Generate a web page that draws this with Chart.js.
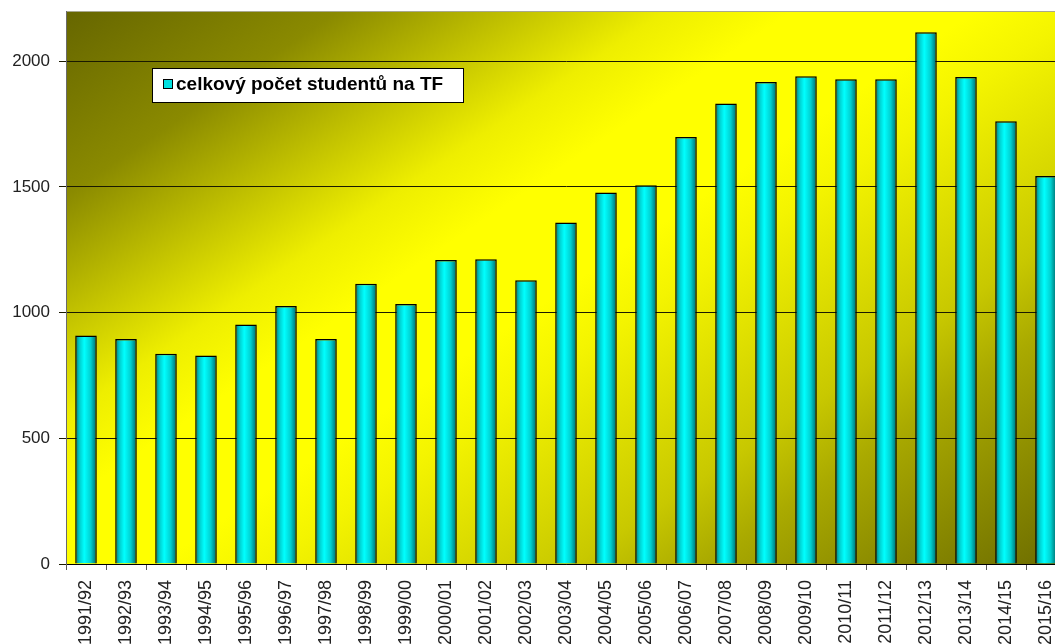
<!DOCTYPE html>
<html>
<head>
<meta charset="utf-8">
<script src="https://cdn.jsdelivr.net/npm/chart.js@4.4.1/dist/chart.umd.min.js"></script>
<style>
	body { margin: 0; overflow: hidden; background: #fff; }
	#wrap { width: 1068px; height: 644px; }
</style>
</head>
<body>
<div id="wrap"><canvas id="myChart"></canvas></div>
<script>
// DATA
const years = ['1991/92', '1992/93', '1993/94', '1994/95', '1995/96', '1996/97', '1997/98', '1998/99', '1999/00',
	'2000/01', '2001/02', '2002/03', '2003/04', '2004/05', '2005/06', '2006/07', '2007/08', '2008/09',
	'2009/10', '2010/11', '2011/12', '2012/13', '2013/14', '2014/15', '2015/16'];
const students = [909, 895, 836, 829, 953, 1026, 895, 1115, 1034,
	1209, 1212, 1129, 1359, 1478, 1507, 1699, 1832, 1918,
	1940, 1928, 1928, 2115, 1937, 1761, 1544];
const yTicks = [0, 500, 1000, 1500, 2000];
const seriesName = 'celkový počet studentů na TF';

const FONT = '"Liberation Sans", Arial, sans-serif';
const BAR_PCT = 0.54;

// cyan bar with a horizontal shine
function barFill(context) {
	const chart = context.chart;
	const x = chart.scales.x;
	if (!x || context.dataIndex === undefined) return '#00ffff';
	const cx = x.getPixelForValue(context.dataIndex);
	const w = x.width / years.length * BAR_PCT;
	if (!isFinite(cx) || !isFinite(w) || w <= 0) return '#00ffff';
	const g = chart.ctx.createLinearGradient(cx - w / 2, 0, cx + w / 2, 0);
	g.addColorStop(0, '#006c6c');
	g.addColorStop(0.18, '#00c8c8');
	g.addColorStop(0.42, '#00ffff');
	g.addColorStop(0.72, '#00d0d0');
	g.addColorStop(1, '#006464');
	return g;
}

// olive - yellow - olive diagonal fill behind the plot
const plotBackground = {
	id: 'plotBackground',
	beforeDraw(chart) {
		const { ctx, chartArea: a } = chart;
		const W = a.right - a.left, H = a.bottom - a.top;
		if (!(W > 0 && H > 0)) return;
		// t = 0.55*x/W + 0.45*y/H
		const vx = 0.55 / W, vy = 0.45 / H;
		const v2 = vx * vx + vy * vy;
		const g = ctx.createLinearGradient(a.left, a.top, a.left + vx / v2, a.top + vy / v2);
		g.addColorStop(0, '#666600');
		g.addColorStop(0.15, '#8a8a00');
		g.addColorStop(0.25, '#c2c200');
		g.addColorStop(0.33, '#eeee00');
		g.addColorStop(0.4, '#ffff00');
		g.addColorStop(0.5, '#ffff00');
		g.addColorStop(0.56, '#f4f400');
		g.addColorStop(0.73, '#c8c800');
		g.addColorStop(0.8, '#aaaa00');
		g.addColorStop(0.9, '#8a8a00');
		g.addColorStop(1, '#6c6c00');
		ctx.save();
		ctx.fillStyle = g;
		ctx.fillRect(a.left, a.top, W, H);
		ctx.strokeStyle = '#a8a890';
		ctx.lineWidth = 1;
		ctx.beginPath();
		ctx.moveTo(a.left, a.top + 0.5);
		ctx.lineTo(a.right, a.top + 0.5);
		ctx.stroke();
		ctx.restore();
	}
};

// floating legend inside the plot
const legendBox = {
	id: 'legendBox',
	afterDraw(chart) {
		const { ctx, chartArea: a } = chart;
		const bx = a.left + 86, by = a.top + 57, bw = 311, bh = 34;
		ctx.save();
		ctx.fillStyle = '#ffffff';
		ctx.fillRect(bx, by, bw, bh);
		ctx.strokeStyle = '#000';
		ctx.lineWidth = 1;
		ctx.strokeRect(bx + 0.5, by + 0.5, bw, bh);
		ctx.fillStyle = '#00e0e0';
		ctx.fillRect(bx + 11, by + 11, 10, 10);
		ctx.strokeStyle = '#000';
		ctx.strokeRect(bx + 11.5, by + 11.5, 9, 9);
		ctx.fillStyle = '#000';
		ctx.font = 'bold 19px ' + FONT;
		ctx.textBaseline = 'middle';
		ctx.fillText(chart.data.datasets[0].label, bx + 24, by + 17);
		ctx.restore();
	}
};

const ctx = document.getElementById('myChart');
const myChart = new Chart(ctx, {
	type: 'bar',
	data: {
		labels: years,
		datasets: [{
			label: seriesName,
			data: students,
			backgroundColor: barFill,
			borderColor: '#000',
			borderWidth: 1.5,
			barPercentage: BAR_PCT,
			categoryPercentage: 1
		}]
	},
	options: {
		responsive: true,
		maintainAspectRatio: false,
		animation: false,
		layout: { padding: { top: 11, left: 0, right: 2, bottom: 0 } },
		plugins: {
			legend: { display: false },
			tooltip: { enabled: false }
		},
		scales: {
			x: {
				afterFit: s => {
					s.height = 80;
					s.paddingLeft = 0;
					s.paddingRight = 0;
				},
				grid: {
					display: true,
					offset: true,
					drawOnChartArea: false,
					drawTicks: true,
					tickLength: 6,
					color: '#555'
				},
				border: { display: true, color: '#000', width: 1 },
				ticks: {
					autoSkip: false,
					maxRotation: 90,
					minRotation: 90,
					padding: 10,
					color: '#222',
					font: { family: FONT, size: 18 }
				}
			},
			y: {
				min: 0,
				max: 2200,
				afterFit: s => {
					s.width = 66;
					s.paddingTop = 0;
					s.paddingBottom = 0;
				},
				afterBuildTicks: s => { s.ticks = yTicks.map(v => ({ value: v })); },
				grid: {
					color: '#1a1a00',
					lineWidth: 1,
					tickLength: 7,
					drawTicks: true
				},
				border: { display: true, color: '#6a6a6a', width: 1 },
				ticks: {
					padding: 9,
					color: '#222',
					font: { family: FONT, size: 17 },
					callback: v => String(v)
				}
			}
		}
	},
	plugins: [plotBackground, legendBox]
});
</script>
</body>
</html>
